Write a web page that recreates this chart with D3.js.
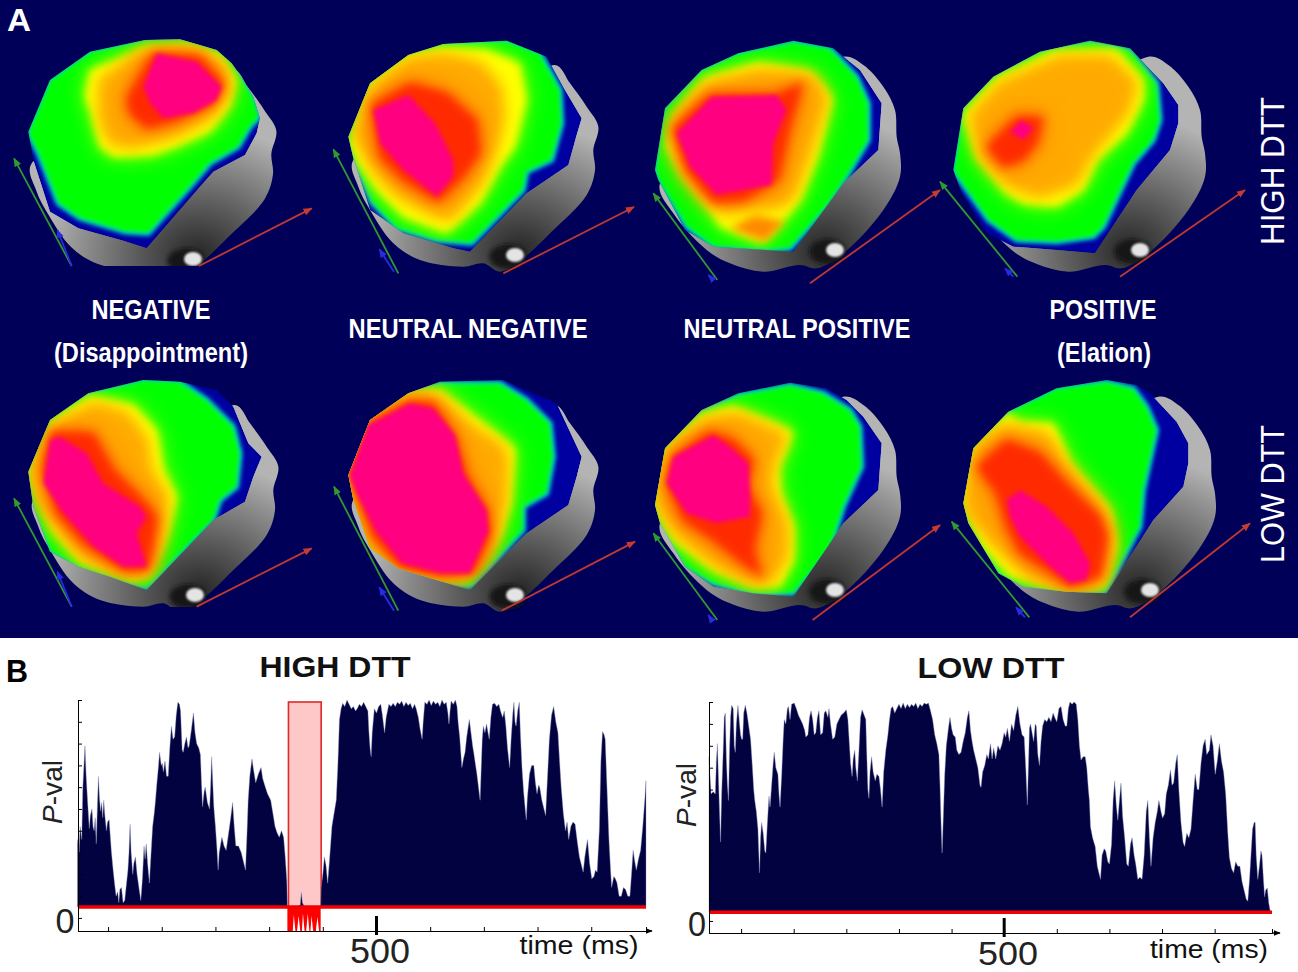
<!DOCTYPE html>
<html>
<head>
<meta charset="utf-8">
<script src="https://cdn.jsdelivr.net/npm/d3@7"></script>
<style>
  body { margin: 0; background: #fff; }
  svg { display: block; }
</style>
</head>
<body>
<div id="chart"></div>
<script>
// ---- panel A: one crop origin per head, contours are in 3x crop units
var headX = [0, 320, 630, 930, 0, 320, 630, 940];
var headY = [0, 20, 20, 20, 360, 360, 360, 360];
var skullX = [-2, 320, 630, 935, 0, 320, 630, 945];
var skullY = [24, 20, 20, 20, 360, 360, 360, 360];
var skullKind = [0, 0, 1, 1, 0, 0, 1, 1];
var headFloor = [266, 640, 640, 640, 607, 640, 640, 640];

var skulls = [
  [[100,420],[115,500],[150,570],[220,670],[300,720],[430,740],[490,730],[540,755],[610,715],[690,640],[800,525],[825,450],[820,390],[835,320],[800,260],[750,190],[705,135],[500,300]],
  [[90,490],[130,580],[230,690],[300,730],[400,755],[510,735],[560,745],[640,700],[760,570],[810,470],[810,400],[800,350],[795,270],[760,200],[700,135],[640,110],[400,300]]
];
var earX = [585, 615];
var earY = [705, 690];

var capRings = [
  [[85,395],[150,240],[270,155],[435,120],[540,118],[650,150],[695,190],[720,225],[760,290],[780,355],[770,400],[735,465],[640,515],[600,560],[440,745],[370,722],[235,685],[150,635],[100,480]],
  [[85,350],[150,190],[265,105],[370,72],[560,62],[680,110],[735,210],[785,295],[770,345],[745,435],[620,520],[450,695],[400,685],[250,640],[150,570],[100,415]],
  [[75,450],[105,265],[215,150],[325,100],[490,62],[610,85],[690,150],[755,250],[745,390],[640,490],[490,695],[250,680],[165,630],[85,480]],
  [[70,450],[100,265],[190,170],[330,95],[480,62],[600,85],[700,190],[745,255],[745,310],[720,390],[620,510],[495,700],[380,690],[250,680],[170,640],[95,520]],
  [[85,335],[150,180],[265,100],[430,60],[540,65],[650,90],[700,140],[745,250],[785,290],[760,350],[735,425],[640,480],[440,690],[330,650],[235,620],[150,575],[100,440]],
  [[85,345],[150,180],[265,100],[360,65],[550,60],[640,100],[710,130],[785,290],[770,350],[745,435],[620,520],[450,690],[350,660],[235,625],[150,565],[100,420]],
  [[75,435],[105,265],[215,150],[325,100],[480,68],[590,85],[650,120],[700,170],[755,250],[745,390],[640,490],[490,710],[370,700],[250,680],[165,620],[90,490]],
  [[70,430],[100,265],[205,155],[350,85],[500,60],[590,75],[630,100],[710,185],[745,250],[745,310],[730,380],[640,480],[500,700],[380,695],[250,680],[175,640],[85,490]]
];
var greenRings = [
  [[85,395],[150,240],[270,155],[435,120],[540,118],[650,150],[695,190],[720,225],[760,290],[778,352],[750,380],[715,440],[630,490],[570,560],[445,700],[375,695],[240,655],[175,610],[115,460],[92,415]],
  [[85,350],[150,190],[265,105],[370,72],[560,62],[660,100],[720,210],[725,310],[695,420],[620,455],[610,510],[455,670],[350,660],[230,625],[155,545],[105,420]],
  [[75,450],[105,265],[215,150],[325,100],[490,65],[600,85],[680,170],[715,250],[715,360],[650,470],[590,560],[480,685],[420,690],[250,680],[170,620],[85,480]],
  [[70,450],[100,265],[190,170],[330,95],[480,65],[600,90],[680,190],[690,300],[670,360],[610,430],[520,620],[490,650],[380,665],[260,660],[175,600],[78,465]],
  [[85,335],[150,180],[265,100],[430,60],[540,65],[620,120],[700,200],[720,280],[710,380],[660,420],[640,480],[440,685],[330,650],[235,620],[150,575],[100,440]],
  [[85,345],[150,180],[265,100],[360,70],[540,70],[620,120],[690,190],[700,290],[680,400],[610,440],[610,510],[450,680],[350,660],[235,625],[150,565],[100,420]],
  [[75,435],[105,265],[215,155],[325,105],[480,75],[580,100],[660,150],[690,200],[695,320],[640,440],[600,570],[490,700],[370,700],[250,670],[165,620],[90,490]],
  [[70,430],[100,265],[205,155],[350,85],[500,65],[580,85],[620,140],[650,210],[610,390],[600,500],[495,695],[380,695],[250,680],[175,640],[85,490]]
];
var yellowRings = [
  [[270,210],[380,170],[440,140],[560,135],[660,165],[710,240],[690,320],[630,395],[540,435],[460,465],[340,470],[300,440],[275,340],[255,290]],
  [[90,370],[120,280],[150,190],[265,105],[370,85],[500,90],[600,130],[620,240],[585,380],[540,440],[480,550],[380,640],[250,590],[170,510],[115,430]],
  [[110,380],[130,290],[225,175],[385,130],[540,155],[605,235],[565,400],[510,540],[470,590],[400,670],[270,620],[240,570],[160,470]],
  [[100,285],[200,175],[370,95],[560,90],[640,180],[640,240],[590,340],[500,420],[460,510],[380,560],[280,550],[230,520],[140,410],[120,340]],
  [[90,340],[155,185],[270,110],[400,135],[470,210],[490,330],[530,410],[500,530],[445,650],[400,660],[240,605],[155,510]],
  [[85,345],[150,180],[265,100],[360,90],[450,160],[585,265],[570,430],[540,530],[440,660],[350,655],[235,625],[150,565],[100,420]],
  [[80,400],[105,270],[215,165],[310,140],[490,215],[445,320],[450,400],[490,500],[490,600],[450,680],[370,680],[250,630],[130,540],[80,450]],
  [[70,430],[100,265],[205,160],[240,190],[340,190],[390,310],[510,450],[530,560],[490,680],[380,690],[210,650],[130,560]]
];
var orangeRings = [
  [[300,240],[420,160],[590,150],[670,200],[680,270],[620,350],[530,400],[400,440],[330,430],[300,350]],
  [[105,345],[150,210],[270,115],[380,105],[480,130],[540,200],[550,290],[530,370],[480,490],[390,600],[360,590],[230,520],[160,440]],
  [[125,320],[225,195],[390,150],[550,170],[590,235],[545,380],[490,530],[450,560],[350,560],[290,570],[260,560],[170,450]],
  [[120,290],[210,190],[390,110],[540,110],[620,190],[590,280],[480,410],[440,490],[330,530],[240,500],[150,400],[140,350]],
  [[95,340],[160,200],[280,130],[380,160],[440,240],[450,330],[500,410],[470,560],[445,635],[380,640],[250,590],[170,490],[120,430]],
  [[85,345],[150,180],[265,105],[350,110],[440,190],[550,260],[560,300],[555,420],[500,590],[430,650],[350,650],[235,620],[150,550],[100,400]],
  [[85,400],[110,270],[225,180],[320,160],[470,225],[430,310],[420,380],[470,490],[470,590],[420,665],[370,670],[250,610],[140,520],[85,440]],
  [[72,430],[105,265],[195,195],[250,210],[320,220],[370,310],[480,440],[510,520],[490,670],[380,685],[270,650],[150,540],[90,470]]
];
var orangeSpot = [[300,625],[375,585],[465,605],[405,665]];
var redRings = [
  [[400,260],[460,160],[600,170],[670,250],[640,310],[530,360],[440,385],[390,340],[380,300]],
  [[155,255],[270,190],[380,220],[470,300],[480,400],[430,470],[355,545],[250,480],[180,410]],
  [[130,325],[240,225],[440,225],[520,185],[480,320],[445,480],[340,540],[250,545],[170,450]],
  [[170,380],[260,290],[340,290],[320,370],[280,420],[220,440]],
  [[130,330],[155,215],[280,220],[340,330],[430,420],[470,470],[445,630],[370,630],[250,550],[170,460]],
  [[85,345],[145,190],[270,125],[340,130],[405,230],[440,350],[500,450],[510,520],[460,640],[360,645],[240,620],[160,530],[100,370]],
  [[110,370],[130,290],[240,215],[310,240],[370,300],[350,380],[395,460],[370,570],[400,655],[350,620],[250,540],[160,480]],
  [[110,320],[200,240],[300,280],[370,360],[480,470],[500,530],[480,650],[390,680],[320,630],[240,580],[200,500],[170,400]]
];
var pinkRings = [
  [[430,260],[470,160],[590,185],[665,260],[650,300],[580,340],[490,355],[450,310]],
  [[160,270],[265,225],[345,310],[400,420],[400,470],[350,530],[250,450],[180,370]],
  [[140,340],[245,230],[440,225],[470,270],[430,370],[425,495],[260,525],[180,440]],
  [[240,335],[275,300],[310,325],[280,360]],
  [[150,240],[180,230],[260,280],[310,370],[420,440],[440,470],[410,520],[440,620],[370,620],[280,560],[190,460],[130,370]],
  [[90,345],[145,195],[270,130],[340,145],[405,225],[430,340],[500,450],[505,515],[450,640],[360,640],[245,610],[165,510],[110,400]],
  [[110,370],[130,290],[250,225],[300,260],[355,310],[360,400],[360,470],[260,490],[170,460],[130,400]],
  [[200,420],[240,390],[320,440],[400,520],[450,610],[440,660],[390,670],[330,620],[240,530],[210,470]]
];
var axisGreen = [[215,798,42,475],[235,760,40,388],[262,780,70,520],[262,770,30,485],[215,740,42,415],[235,752,42,380],[262,780,70,520],[268,772,35,485]];
var axisBlue = [[215,798,172,690],[222,755,178,688],[248,778,235,765],[250,770,225,745],[215,740,172,635],[222,752,178,682],[245,780,235,765],[255,772,228,742]];
var axisRed = [[597,798,935,625],[550,760,942,561],[540,790,930,510],[570,770,945,510],[590,740,935,565],[545,752,945,545],[548,780,930,495],[570,772,930,490]];

// ---- panel B: P-value traces, [time ms, p]
var traceHigh = [[-57,.36],[-54,.30],[-52,.42],[-49,.36],[-47,.60],[-43,.79],[-41,.66],[-38,.53],[-35,.41],[-33,.47],[-30,.50],[-28,.42],[-26,.40],[-24,.46],[-22,.34],[-20,.50],[-18,.65],[-16,.55],[-14,.49],[-12,.53],[-10,.46],[-8,.54],[-6,.47],[-3,.40],[-1,.44],[2,.45],[4,.38],[6,.31],[9,.23],[12,.16],[15,.10],[18,.12],[20,.07],[22,.13],[25,.14],[28,.07],[31,.08],[34,.15],[37,.22],[39,.30],[41,.43],[43,.30],[46,.20],[48,.25],[51,.28],[54,.20],[58,.13],[61,.08],[64,.18],[67,.33],[69,.27],[71,.34],[74,.24],[77,.16],[79,.25],[83,.42],[86,.48],[88,.53],[91,.62],[94,.70],[96,.76],[99,.70],[101,.71],[103,.67],[106,.72],[109,.65],[112,.65],[115,.78],[118,.88],[121,.82],[124,.83],[127,.93],[130,.99],[133,.98],[135,.95],[138,.77],[140,.76],[143,.80],[146,.83],[149,.78],[151,.79],[155,.86],[159,.94],[162,.85],[165,.80],[169,.78],[172,.75],[174,.62],[176,.51],[179,.58],[181,.60],[185,.53],[189,.50],[191,.60],[193,.74],[195,.62],[197,.51],[200,.42],[203,.31],[205,.22],[207,.30],[212,.37],[216,.33],[220,.31],[224,.38],[228,.45],[232,.53],[235,.42],[238,.33],[243,.33],[248,.30],[252,.26],[256,.22],[259,.40],[261,.54],[264,.65],[268,.73],[271,.68],[275,.62],[280,.66],[285,.69],[288,.64],[293,.60],[297,.57],[303,.54],[307,.48],[311,.42],[315,.39],[319,.37],[323,.40],[327,.37],[330,.28],[333,.17],[334,.05],[352,.05],[358,.06],[360,.118],[362,.07],[366,.05],[396,.05],[397,.14],[400,.20],[403,.28],[406,.24],[409,.16],[412,.25],[417,.42],[421,.48],[425,.54],[428,.70],[431,.91],[434,.96],[437,.985],[441,.97],[445,1],[449,.98],[453,.96],[457,.97],[461,.95],[464,.96],[468,.98],[472,.97],[476,.99],[480,.97],[484,.95],[486,.85],[488,.78],[490,.74],[492,.85],[496,.96],[500,.94],[504,.97],[508,.98],[511,.93],[515,.85],[518,.92],[523,.98],[527,.97],[531,.985],[535,.97],[539,.99],[543,.98],[547,.995],[551,.97],[555,.99],[559,.975],[563,.985],[567,.96],[571,.98],[574,.96],[578,.92],[581,.87],[585,.82],[587,.90],[590,.99],[594,.98],[598,1],[602,.975],[606,.995],[610,.98],[614,.99],[618,.97],[622,1],[626,.98],[630,.99],[633,.94],[635,.89],[637,.95],[639,.995],[643,.98],[647,1],[650,.97],[652,.9],[655,.83],[657,.76],[659,.69],[662,.73],[665,.76],[668,.83],[671,.88],[673,.91],[676,.85],[679,.79],[681,.76],[684,.71],[687,.66],[690,.60],[693,.54],[695,.68],[697,.82],[699,.88],[702,.85],[705,.89],[707,.86],[710,.82],[713,.92],[716,.98],[720,.985],[724,.97],[728,.98],[731,.95],[735,.92],[738,.95],[741,.88],[744,.78],[748,.69],[751,.83],[754,.94],[756,.99],[758,.90],[760,.88],[763,.95],[766,.99],[768,.85],[771,.69],[774,.58],[777,.50],[779,.45],[781,.55],[785,.66],[789,.70],[793,.70],[796,.62],[799,.57],[802,.61],[804,.60],[808,.54],[812,.50],[815,.47],[818,.62],[822,.82],[826,.93],[830,.97],[834,.90],[838,.85],[841,.72],[844,.60],[848,.48],[852,.40],[855,.44],[858,.36],[862,.42],[866,.44],[870,.43],[874,.35],[878,.28],[882,.24],[885,.21],[888,.28],[893,.36],[897,.25],[901,.18],[905,.19],[908,.22],[911,.21],[915,.40],[918,.72],[921,.855],[924,.84],[926,.82],[929,.62],[933,.36],[936,.22],[938,.14],[942,.19],[945,.18],[948,.16],[952,.10],[956,.10],[960,.14],[964,.13],[968,.10],[972,.10],[975,.20],[978,.31],[981,.26],[984,.22],[988,.27],[992,.31],[996,.42],[1000,.55],[1002,.63]];
var traceLow = [[-61,.75],[-59,.66],[-57,.58],[-53,.59],[-49,.58],[-47,.73],[-45,.81],[-43,.65],[-41,.50],[-39,.36],[-37,.58],[-34,.78],[-32,.93],[-30,.95],[-28,.74],[-26,.62],[-24,.55],[-22,.78],[-20,.93],[-18,.985],[-15,.97],[-13,.80],[-11,.77],[-9,.90],[-6,.985],[-3,.90],[-1,.85],[1,.83],[3,.83],[5,.95],[8,.985],[11,.95],[14,.90],[18,.83],[21,.72],[24,.60],[26,.55],[29,.50],[32,.42],[35,.22],[37,.38],[39,.45],[42,.40],[45,.32],[47,.31],[50,.45],[53,.57],[55,.52],[58,.62],[61,.72],[63,.77],[66,.70],[70,.67],[72,.58],[74,.52],[77,.66],[80,.83],[82,.92],[85,.90],[88,.97],[90,.98],[93,.92],[96,.99],[101,.995],[105,.97],[109,.94],[113,.92],[117,.90],[121,.87],[123,.84],[127,.85],[130,.93],[133,.96],[136,.92],[139,.85],[142,.86],[145,.93],[148,.96],[151,.85],[155,.86],[158,.95],[161,.96],[165,.93],[167,.97],[170,.90],[174,.83],[178,.84],[182,.90],[186,.92],[190,.94],[195,.95],[200,.965],[203,.92],[206,.80],[208,.72],[211,.66],[213,.74],[216,.78],[218,.70],[221,.64],[224,.78],[227,.93],[230,.965],[234,.94],[237,.92],[239,.75],[241,.60],[243,.56],[245,.68],[248,.75],[251,.68],[255,.64],[258,.67],[262,.66],[265,.60],[268,.52],[271,.68],[275,.78],[279,.85],[282,.92],[285,.97],[288,.98],[292,.95],[296,.97],[300,.99],[304,.97],[308,.995],[312,.97],[316,.99],[320,.975],[324,.99],[328,.98],[332,.995],[336,.97],[340,.99],[344,.98],[348,.995],[352,.99],[356,.995],[360,.96],[364,.92],[368,.85],[372,.81],[376,.76],[378,.62],[380,.45],[382,.31],[384,.45],[387,.67],[390,.80],[394,.88],[397,.93],[400,.88],[403,.85],[407,.84],[410,.78],[414,.76],[418,.77],[422,.82],[426,.86],[430,.93],[433,.96],[436,.87],[439,.82],[442,.78],[446,.74],[450,.70],[454,.62],[456,.61],[459,.68],[463,.71],[467,.76],[470,.74],[474,.81],[477,.74],[480,.79],[484,.74],[488,.80],[492,.78],[496,.81],[500,.86],[503,.84],[506,.88],[510,.82],[514,.90],[518,.87],[522,.94],[526,.98],[530,.90],[534,.85],[538,.84],[541,.70],[544,.53],[546,.70],[548,.88],[550,.90],[553,.86],[556,.82],[559,.90],[561,.89],[564,.76],[567,.71],[570,.82],[573,.89],[577,.92],[581,.91],[585,.93],[589,.91],[593,.95],[596,.93],[600,.91],[604,.97],[608,.98],[612,.92],[616,.89],[619,.89],[622,.97],[625,1],[629,.99],[633,1],[637,.99],[640,.92],[643,.80],[646,.735],[650,.75],[654,.75],[657,.70],[660,.60],[662,.55],[664,.43],[668,.38],[673,.34],[677,.25],[680,.22],[683,.19],[686,.30],[690,.33],[693,.32],[697,.27],[700,.26],[704,.35],[707,.55],[710,.64],[713,.53],[716,.46],[719,.55],[722,.63],[725,.48],[729,.38],[733,.26],[736,.25],[740,.35],[743,.38],[747,.30],[750,.26],[754,.19],[758,.20],[762,.19],[766,.30],[770,.50],[773,.55],[776,.38],[779,.25],[783,.38],[787,.45],[791,.50],[794,.55],[798,.50],[801,.47],[805,.49],[808,.58],[812,.62],[816,.69],[819,.62],[822,.63],[826,.72],[829,.76],[832,.60],[836,.45],[840,.36],[843,.34],[847,.40],[851,.38],[855,.42],[859,.55],[863,.67],[867,.60],[870,.60],[874,.72],[878,.80],[882,.83],[885,.76],[890,.78],[893,.85],[897,.80],[901,.67],[905,.73],[909,.81],[913,.73],[917,.68],[921,.58],[925,.40],[928,.29],[932,.24],[936,.22],[940,.27],[944,.25],[948,.25],[952,.18],[956,.14],[960,.10],[963,.09],[966,.18],[969,.30],[972,.42],[975,.45],[977,.45],[979,.30],[982,.19],[985,.25],[988,.32],[990,.30],[993,.18],[995,.11],[997,.14],[1000,.15],[1003,.08],[1006,.04]];
// red window below p = .05 in the high trace: lower edge of the red fill
var timeSig = [334,344,346,349,352,355,358,361,363,366,369,372,375,377,379,382,387,390,393,396];
var pSig = [-.06,-.06,.015,-.06,-.06,.01,-.06,-.06,.02,-.06,-.06,.02,-.06,-.06,.01,-.06,-.06,.005,-.06,-.06];
var timeTicks = [0,100,200,300,400,500,600,700,800,900];
var pTicks = [0,.1,.2,.3,.4,.5,.6,.7,.8,.9,1];

var width = 1298, height = 972;
var svg = d3.select("#chart").append("svg").attr("width", width).attr("height", height);
var defs = svg.append("defs");

function blur(id, s) {
  defs.append("filter").attr("id", id)
    .attr("x", "-40%").attr("y", "-40%").attr("width", "180%").attr("height", "180%")
    .append("feGaussianBlur").attr("stdDeviation", s);
}
blur("b1", 1);
blur("b2", 2);
blur("b3", 2.6);
blur("b4", 4);
blur("b5", 5);
blur("b7", 7);
blur("b9", 9);
blur("b11", 11);
blur("b14", 14);

var skullGrad = defs.append("radialGradient").attr("id", "skullGrad")
  .attr("cx", 0.68).attr("cy", 0.9).attr("r", 0.62);
skullGrad.append("stop").attr("offset", "0%").attr("stop-color", "#262626");
skullGrad.append("stop").attr("offset", "40%").attr("stop-color", "#5c5c5c");
skullGrad.append("stop").attr("offset", "75%").attr("stop-color", "#8e8e8e");
skullGrad.append("stop").attr("offset", "100%").attr("stop-color", "#b4b4b4");

function arrowDef(id, colour) {
  defs.append("marker").attr("id", id)
    .attr("viewBox", "0 0 10 10").attr("refX", 9).attr("refY", 5)
    .attr("markerWidth", 5).attr("markerHeight", 5).attr("orient", "auto")
    .append("path").attr("d", "M0,1L10,5L0,9Z").attr("fill", colour);
}
arrowDef("arG", "#2f9a2f");
arrowDef("arB", "#2a2ae0");
arrowDef("arR", "#c83a30");
arrowDef("arK", "#000");

svg.append("rect").attr("width", width).attr("height", 638).attr("fill", "#000058");

var unitScale = d3.scaleLinear().domain([0, 900]).range([0, 300]);

capRings.forEach(function(cap, i) {
  var px = function(v) { return headX[i] + unitScale(v); };
  var py = function(v) { return headY[i] + unitScale(v); };
  var ring = d3.line().x(function(d) { return px(d[0]); }).y(function(d) { return py(d[1]); })
    .curve(d3.curveLinearClosed);

  var head = svg.append("g").attr("class", "head");

  defs.append("clipPath").attr("id", "floor" + i).append("rect")
    .attr("width", width).attr("height", headFloor[i]);
  defs.append("clipPath").attr("id", "cap" + i).append("path").attr("d", ring(cap));

  // skull under the cap
  var skull = head.append("g").attr("clip-path", "url(#floor" + i + ")");
  var kind = skullKind[i];
  var sx = function(v) { return skullX[i] + unitScale(v); };
  var sy = function(v) { return skullY[i] + unitScale(v); };
  skull.append("path")
    .attr("d", d3.line().x(function(d) { return sx(d[0]); }).y(function(d) { return sy(d[1]); })
      .curve(d3.curveCatmullRomClosed.alpha(0.5))(skulls[kind]))
    .attr("fill", "url(#skullGrad)");
  skull.append("ellipse")
    .attr("cx", sx(earX[kind] - 22)).attr("cy", sy(earY[kind] + 5))
    .attr("rx", 18).attr("ry", 12).attr("fill", "#181818").attr("filter", "url(#b2)");
  skull.append("ellipse")
    .attr("cx", sx(earX[kind])).attr("cy", sy(earY[kind]))
    .attr("rx", 9).attr("ry", 7).attr("fill", "#e4e4e4").attr("filter", "url(#b1)");

  // colour map, lowest level first
  var cut = head.append("g").attr("clip-path", "url(#cap" + i + ")");
  cut.append("path").attr("d", ring(cap)).attr("fill", "#0000a0");
  cut.append("path").attr("d", ring(greenRings[i])).attr("fill", "#00e6ff")
    .attr("stroke", "#00b4ff").attr("stroke-width", 5).attr("filter", "url(#b2)");
  cut.append("path").attr("d", ring(greenRings[i])).attr("fill", "#00ff00").attr("filter", "url(#b3)");
  cut.append("path").attr("d", ring(yellowRings[i])).attr("fill", "#a8ff00").attr("filter", "url(#b11)");
  cut.append("path").attr("d", ring(yellowRings[i])).attr("fill", "#ffff00").attr("filter", "url(#b4)");
  cut.append("path").attr("d", ring(orangeRings[i])).attr("fill", "#ffd000").attr("filter", "url(#b9)");
  cut.append("path").attr("d", ring(orangeRings[i])).attr("fill", "#ffaa00").attr("filter", "url(#b7)");
  if (i === 2) {
    cut.append("path").attr("d", ring(orangeSpot)).attr("fill", "#ff8a00").attr("filter", "url(#b4)");
  }
  cut.append("path").attr("d", ring(redRings[i])).attr("fill", "#ff8000").attr("filter", "url(#b14)");
  cut.append("path").attr("d", ring(redRings[i])).attr("fill", "#ff5a00").attr("filter", "url(#b9)");
  cut.append("path").attr("d", ring(redRings[i])).attr("fill", "#ff2c00").attr("filter", "url(#b5)");
  cut.append("path").attr("d", ring(pinkRings[i])).attr("fill", "#ff0080").attr("filter", "url(#b2)");

  // coordinate axes beside the head
  [[axisGreen, "#2f9a2f", "arG"], [axisBlue, "#2a2ae0", "arB"], [axisRed, "#c03830", "arR"]].forEach(function(a) {
    var c = a[0][i];
    head.append("line")
      .attr("x1", px(c[0])).attr("y1", py(c[1])).attr("x2", px(c[2])).attr("y2", py(c[3]))
      .attr("stroke", a[1]).attr("stroke-width", 1.8)
      .attr("marker-end", "url(#" + a[2] + ")");
  });
});

function label(x, y, str, size, w, font, weight, fill, rotate) {
  var t = svg.append("text")
    .attr("text-anchor", "middle")
    .attr("font-family", font).attr("font-size", size).attr("font-weight", weight)
    .attr("fill", fill).attr("textLength", w).attr("lengthAdjust", "spacingAndGlyphs")
    .attr("transform", "translate(" + x + "," + y + ")" + (rotate ? "rotate(-90)" : ""))
    .text(str);
  return t;
}

var narrow = "'Liberation Sans Narrow', 'Liberation Sans', sans-serif";
var sans = "'Liberation Sans', Arial, sans-serif";

label(19, 31, "A", 32, 24, sans, "bold", "#fff");
label(151, 319, "NEGATIVE", 28, 119, narrow, "bold", "#fff");
label(151, 362, "(Disappointment)", 27, 194, narrow, "bold", "#fff");
label(468, 338, "NEUTRAL NEGATIVE", 28, 239, narrow, "bold", "#fff");
label(797, 338, "NEUTRAL POSITIVE", 28, 227, narrow, "bold", "#fff");
label(1103, 319, "POSITIVE", 28, 107, narrow, "bold", "#fff");
label(1104, 362, "(Elation)", 27, 94, narrow, "bold", "#fff");
label(1284, 171, "HIGH DTT", 34, 148, sans, "normal", "#fff", true);
label(1284, 494, "LOW DTT", 34, 138, sans, "normal", "#fff", true);

label(17, 682, "B", 32, 22, sans, "bold", "#000");
label(335, 677, "HIGH DTT", 30, 151, sans, "bold", "#111");
label(991, 678, "LOW DTT", 30, 147, sans, "bold", "#111");

function traceChart(pts, opt) {
  var x = d3.scaleLinear().domain(opt.xDomain).range(opt.xRange);
  var y = d3.scaleLinear().domain([opt.pMin, 1]).range(opt.yRange);
  var g = svg.append("g").attr("class", "trace");
  var alpha = opt.alpha;

  if (opt.win) {
    g.append("rect")
      .attr("x", x(opt.win[0])).attr("y", y(1) + 2)
      .attr("width", x(opt.win[1]) - x(opt.win[0])).attr("height", y(alpha) - y(1) - 2)
      .attr("fill", "#ffc8c8").attr("stroke", "#e02828").attr("stroke-width", 1.6);
  }

  var area = d3.area()
    .x(function(d) { return x(d[0]); })
    .y0(y(alpha))
    .y1(function(d) { return y(d[1]); });
  g.append("path").attr("d", area(pts))
    .attr("fill", "#020240").attr("stroke", "#8a90b8").attr("stroke-width", 0.4);

  if (opt.win) {
    var sig = timeSig.map(function(t, j) { return [t, pSig[j]]; });
    g.append("path")
      .attr("d", d3.area().x(function(d) { return x(d[0]); }).y0(y(alpha)).y1(function(d) { return y(d[1]); })(sig))
      .attr("fill", "#ff0000");
  }

  g.append("line")
    .attr("x1", opt.xRange[0]).attr("x2", opt.xRange[1])
    .attr("y1", y(alpha)).attr("y2", y(alpha))
    .attr("stroke", "#f00000").attr("stroke-width", 3.4);

  var axisY = y(opt.pMin);
  g.append("g").attr("transform", "translate(0," + axisY + ")")
    .call(d3.axisBottom(x).tickValues(timeTicks).tickSize(-4).tickFormat(""))
    .call(function(s) { s.selectAll("line,path").attr("stroke", "#000"); });
  g.append("g").attr("transform", "translate(" + opt.xRange[0] + ",0)")
    .call(d3.axisLeft(y).tickValues(pTicks).tickSize(-4).tickFormat(""))
    .call(function(s) { s.selectAll("line,path").attr("stroke", "#000"); });

  g.append("line")
    .attr("x1", opt.xRange[1]).attr("x2", opt.xRange[1] + opt.arrowExtra)
    .attr("y1", axisY).attr("y2", axisY)
    .attr("stroke", "#000").attr("stroke-width", 1.4)
    .attr("marker-end", "url(#arK)");
  g.append("line")
    .attr("x1", x(500)).attr("x2", x(500))
    .attr("y1", axisY - 15).attr("y2", axisY + 4)
    .attr("stroke", "#000").attr("stroke-width", 3);
}

traceChart(traceHigh, {
  xDomain: [-56, 1002], xRange: [78, 646], yRange: [931, 700], pMin: -0.06,
  alpha: 0.05, win: [336, 397], arrowExtra: 6
});
traceChart(traceLow, {
  xDomain: [-61, 1009], xRange: [709, 1272], yRange: [933, 702], pMin: -0.055,
  alpha: 0.04, arrowExtra: 8
});

label(380, 963, "500", 35, 60, sans, "normal", "#222");
label(1008, 965, "500", 33, 60, sans, "normal", "#222");
label(65, 933, "0", 35, 19, sans, "normal", "#222");
label(697, 936, "0", 35, 18, sans, "normal", "#222");
label(579, 954, "time (ms)", 26, 119, sans, "normal", "#111");
label(1209, 958, "time (ms)", 26, 118, sans, "normal", "#111");

function pval(x, y, w) {
  var t = svg.append("text")
    .attr("text-anchor", "middle").attr("font-family", sans).attr("font-size", 27)
    .attr("fill", "#222").attr("textLength", w).attr("lengthAdjust", "spacingAndGlyphs")
    .attr("transform", "translate(" + x + "," + y + ")rotate(-90)");
  t.append("tspan").attr("font-style", "italic").text("P");
  t.append("tspan").text("-val");
}
pval(62, 792, 64);
pval(696, 795, 64);
</script>
</body>
</html>
